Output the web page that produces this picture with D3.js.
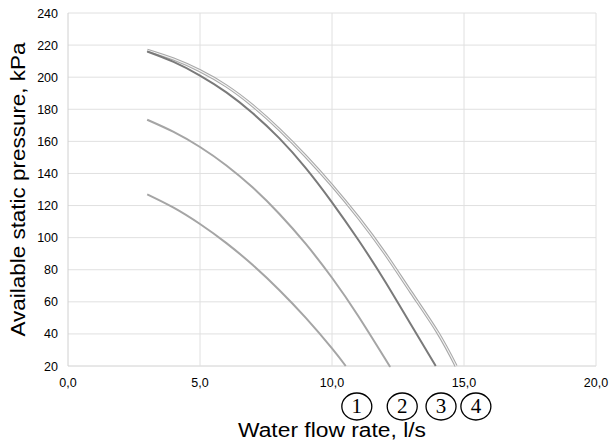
<!DOCTYPE html>
<html><head><meta charset="utf-8">
<script src="https://cdn.jsdelivr.net/npm/d3@7"></script>
<style>body{margin:0;background:#fff}svg{display:block}</style>
</head><body>
<svg id="c" width="611" height="446"></svg>
<script>
const xTicks = [0, 5, 10, 15, 20];
const yTicks = [20, 40, 60, 80, 100, 120, 140, 160, 180, 200, 220, 240];
const curve1X = [3, 4, 5, 6, 7, 8, 9, 10, 10.52];
const curve1Y = [127, 118.7, 108.5, 96.6, 82.9, 67.4, 50.1, 31, 20];
const curve2X = [3, 4, 5, 6, 7, 8, 9, 10, 11, 12, 12.18];
const curve2Y = [173.5, 165.9, 156.5, 145, 131.2, 114.9, 96.2, 75, 51, 24.8, 20];
const curve3X = [3, 4, 5, 6, 7, 8, 9, 10, 11, 12, 13, 13.93];
const curve3Y = [216, 209.5, 201, 190.5, 177.5, 162, 143.5, 122, 98.5, 73, 45.5, 20];
const curve4X = [3, 4, 5, 6, 7, 8, 9, 10, 11, 12, 13, 14, 14.7];
const curve4Y = [216.8, 211.3, 204, 194.5, 182.2, 167.5, 150.8, 132.5, 112.5, 90.3, 65.8, 41, 20];
const labels = ["1", "2", "3", "4"];
const labelX = [10.94, 12.66, 14.13, 15.45];

const svg = d3.select("#c");
const m = {l: 68, r: 596, t: 13, b: 366};
const x = d3.scaleLinear().domain([0, 20]).range([m.l, m.r]);
const y = d3.scaleLinear().domain([20, 240]).range([m.b, m.t]);
const fmt = d => d3.format(".1f")(d).replace(".", ",");

// gridlines
svg.append("g").selectAll("line").data(yTicks).join("line")
  .attr("x1", m.l).attr("x2", m.r).attr("y1", d => y(d)).attr("y2", d => y(d))
  .attr("stroke", d => d === 20 ? "#d0d0d0" : "#e0e0e0").attr("stroke-width", 1);
svg.append("g").selectAll("line").data(xTicks).join("line")
  .attr("y1", m.t).attr("y2", m.b).attr("x1", d => x(d)).attr("x2", d => x(d))
  .attr("stroke", d => d === 0 ? "#d0d0d0" : "#e0e0e0").attr("stroke-width", 1);

// tick labels
svg.append("g").selectAll("text").data(yTicks).join("text")
  .attr("x", 58).attr("y", d => y(d) + 4.5).attr("text-anchor", "end")
  .attr("font-family", "Liberation Sans, Arial, sans-serif").attr("font-size", 12.5)
  .attr("fill", "#000").text(d => d);
svg.append("g").selectAll("text").data(xTicks).join("text")
  .attr("x", d => x(d)).attr("y", 387).attr("text-anchor", "middle")
  .attr("font-family", "Liberation Sans, Arial, sans-serif").attr("font-size", 12.5)
  .attr("fill", "#000").text(d => fmt(d));

const line = d3.line().x(d => x(d[0])).y(d => y(d[1])).curve(d3.curveNatural);
const pts = (xs, ys) => xs.map((v, i) => [v, ys[i]]);

svg.append("path").datum(pts(curve1X, curve1Y)).attr("d", line)
  .attr("fill", "none").attr("stroke", "#a5a5a5").attr("stroke-width", 2);
svg.append("path").datum(pts(curve2X, curve2Y)).attr("d", line)
  .attr("fill", "none").attr("stroke", "#a5a5a5").attr("stroke-width", 2);
svg.append("path").datum(pts(curve4X, curve4Y)).attr("d", line)
  .attr("fill", "none").attr("stroke", "#a8a8a8").attr("stroke-width", 3.2);
svg.append("path").datum(pts(curve4X, curve4Y)).attr("d", line)
  .attr("fill", "none").attr("stroke", "#f4f4f4").attr("stroke-width", 1.1);
svg.append("path").datum(pts(curve3X, curve3Y)).attr("d", line)
  .attr("fill", "none").attr("stroke", "#7a7a7a").attr("stroke-width", 2);

// circled labels
const lg = svg.append("g").selectAll("g").data(labels).join("g")
  .attr("transform", (d, i) => `translate(${x(labelX[i])},406.5)`);
lg.append("ellipse").attr("rx", 15).attr("ry", 13.5)
  .attr("fill", "none").attr("stroke", "#000").attr("stroke-width", 1.3);
lg.append("text").attr("y", 6.8).attr("text-anchor", "middle")
  .attr("font-family", "Liberation Serif, Times New Roman, serif").attr("font-size", 21)
  .text(d => d);

// axis titles
svg.append("text").attr("x", 332).attr("y", 437).attr("text-anchor", "middle")
  .attr("font-family", "Liberation Sans, Arial, sans-serif").attr("font-size", 20)
  .attr("textLength", 188).attr("lengthAdjust", "spacingAndGlyphs")
  .text("Water flow rate, l/s");
svg.append("text").attr("transform", "translate(25,189.5) rotate(-90)").attr("text-anchor", "middle")
  .attr("font-family", "Liberation Sans, Arial, sans-serif").attr("font-size", 20)
  .attr("textLength", 294).attr("lengthAdjust", "spacingAndGlyphs")
  .text("Available static pressure, kPa");
</script>
</body></html>
